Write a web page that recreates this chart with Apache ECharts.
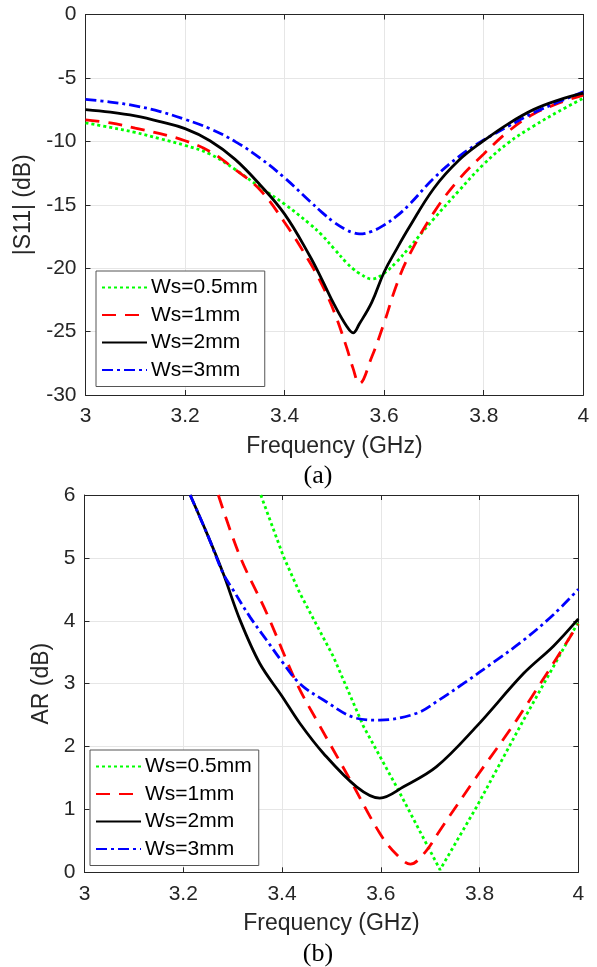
<!DOCTYPE html>
<html>
<head>
<meta charset="utf-8">
<script src="https://cdn.jsdelivr.net/npm/echarts@6/dist/echarts.min.js"></script>
<style>html,body{margin:0;padding:0;background:#fff}#c{width:597px;height:967px}</style>
</head>
<body>
<div id="c"></div>
<script>
// ---- Data ----
const seriesNames = ['Ws=0.5mm', 'Ws=1mm', 'Ws=2mm', 'Ws=3mm'];
const xTicks = [3, 3.2, 3.4, 3.6, 3.8, 4];

// (a) |S11| (dB)
const s11Freq = [3.0, 3.05, 3.1, 3.15, 3.2, 3.25, 3.3, 3.35, 3.4, 3.45, 3.475, 3.5, 3.525, 3.5375, 3.55, 3.575, 3.6, 3.625, 3.65, 3.7, 3.75, 3.8, 3.85, 3.9, 3.95, 4.0];
const s11Ws05 = [-8.55, -8.9, -9.3, -9.8, -10.32, -11.0, -12.2, -13.6, -14.95, -16.5, -17.4, -18.5, -19.6, -20.05, -20.4, -20.85, -20.4, -19.5, -18.4, -16.1, -13.9, -11.8, -10.1, -8.8, -7.65, -6.6];
const s11Ws1  = [-8.3, -8.55, -8.95, -9.4, -9.95, -10.8, -12.2, -13.8, -16.4, -19.5, -21.3, -23.5, -26.3, -27.9, -29.1, -27.0, -24.3, -21.3, -19.0, -15.6, -13.0, -11.0, -9.2, -7.85, -7.0, -6.35];
const s11Ws2  = [-7.5, -7.7, -8.0, -8.45, -9.0, -9.95, -11.4, -13.4, -15.74, -19.0, -20.9, -22.9, -24.6, -25.1, -24.4, -22.7, -20.3, -18.5, -16.8, -13.7, -11.5, -9.95, -8.6, -7.5, -6.75, -6.2];
const s11Ws3  = [-6.7, -6.9, -7.2, -7.65, -8.27, -9.0, -10.0, -11.3, -12.88, -14.7, -15.6, -16.4, -17.0, -17.2, -17.3, -17.1, -16.6, -15.9, -15.0, -12.9, -11.2, -9.9, -8.8, -7.75, -6.9, -6.1];

// (b) AR (dB)
const arFreqWs05 = [3.357, 3.403, 3.436, 3.504, 3.565, 3.632, 3.72, 3.794, 3.889, 4.0];
const arWs05     = [6.0, 5.02, 4.44, 3.43, 2.32, 1.36, 0.04, 1.04, 2.42, 3.98];
const arFreqWs1  = [3.271, 3.315, 3.369, 3.43, 3.47, 3.538, 3.598, 3.63, 3.66, 3.69, 3.72, 3.794, 3.875, 4.0];
const arWs1      = [6.0, 5.02, 4.12, 3.0, 2.42, 1.47, 0.62, 0.3, 0.13, 0.32, 0.67, 1.52, 2.42, 3.95];
const arFreqWs2  = [3.214, 3.25, 3.281, 3.315, 3.355, 3.4, 3.436, 3.484, 3.551, 3.598, 3.646, 3.713, 3.794, 3.889, 3.95, 4.0];
const arWs2      = [6.0, 5.35, 4.75, 4.01, 3.32, 2.8, 2.37, 1.89, 1.36, 1.18, 1.36, 1.68, 2.32, 3.16, 3.6, 4.03];
const arFreqWs3  = [3.214, 3.25, 3.281, 3.301, 3.336, 3.369, 3.4, 3.436, 3.484, 3.551, 3.598, 3.673, 3.72, 3.767, 3.83, 3.889, 3.95, 4.0];
const arWs3      = [6.0, 5.35, 4.75, 4.49, 4.05, 3.69, 3.35, 3.0, 2.74, 2.45, 2.42, 2.53, 2.75, 3.0, 3.35, 3.69, 4.1, 4.5];

// ---- Styles ----
const FONT = "Arial, 'Liberation Sans', sans-serif";
const AX = '#262626';
const colors = ['#00ff00', '#ff0000', '#000000', '#0000ff'];
const dashes = [[3, 3], [14, 9], 'solid', [11, 4, 3, 4]];

const zip = (xs, ys) => xs.map((x, i) => [x, ys[i]]);

function xAx(grid, pos, showLabel, name) {
  return {
    type: 'value', gridIndex: grid, position: pos, min: 3, max: 4, interval: 0.2,
    axisLine: { show: true, onZero: false, lineStyle: { color: AX, width: 1 } },
    axisTick: { show: true, inside: true, length: 5, lineStyle: { color: AX } },
    axisLabel: { show: showLabel, color: AX, fontFamily: FONT, fontSize: 21, margin: 11 },
    splitLine: { show: showLabel, lineStyle: { color: '#e6e6e6', width: 1 } },
    name: name || '', nameLocation: 'middle', nameGap: 40,
    nameTextStyle: { color: AX, fontFamily: FONT, fontSize: 23 }
  };
}
function yAx(grid, pos, showLabel, min, max, interval, name, gap) {
  return {
    type: 'value', gridIndex: grid, position: pos, min: min, max: max, interval: interval,
    axisLine: { show: true, onZero: false, lineStyle: { color: AX, width: 1 } },
    axisTick: { show: true, inside: true, length: 5, lineStyle: { color: AX } },
    axisLabel: { show: showLabel, color: AX, fontFamily: FONT, fontSize: 21, margin: 9 },
    splitLine: { show: showLabel, lineStyle: { color: '#e6e6e6', width: 1 } },
    name: name || '', nameLocation: 'middle', nameGap: gap || 0,
    nameTextStyle: { color: AX, fontFamily: FONT, fontSize: 23 }
  };
}

const s11Data = [s11Ws05, s11Ws1, s11Ws2, s11Ws3];
const arFreqs = [arFreqWs05, arFreqWs1, arFreqWs2, arFreqWs3];
const arData = [arWs05, arWs1, arWs2, arWs3];

const series = [];
seriesNames.forEach((n, i) => {
  series.push({
    name: n, type: 'line', xAxisIndex: 0, yAxisIndex: 0,
    data: zip(s11Freq, s11Data[i]), smooth: 0.4,
    symbol: 'none', showSymbol: false, z: 3 + (i === 2 ? 1 : 0),
    lineStyle: { color: colors[i], width: 2.8, type: dashes[i], cap: 'butt' },
    itemStyle: { color: colors[i] }
  });
});
seriesNames.forEach((n, i) => {
  series.push({
    name: n, type: 'line', xAxisIndex: 2, yAxisIndex: 2,
    data: zip(arFreqs[i], arData[i]), smooth: i === 0 ? false : 0.35,
    symbol: 'none', showSymbol: false, z: 3,
    lineStyle: { color: colors[i], width: 2.8, type: dashes[i], cap: 'butt' },
    itemStyle: { color: colors[i] }
  });
});

function legendAt(left, top) {
  return {
    orient: 'vertical', left: left, top: top, data: seriesNames,
    itemWidth: 45, itemHeight: 14, itemGap: 6.5,
    padding: [6, 7, 6, 5],
    backgroundColor: '#ffffff', borderColor: '#555555', borderWidth: 1,
    itemStyle: { opacity: 0, borderWidth: 0 },
    textStyle: { color: '#000', fontFamily: FONT, fontSize: 21, padding: [0, 0, 0, -1] },
    selectedMode: false, z: 10
  };
}

const option = {
  animation: false,
  backgroundColor: '#ffffff',
  grid: [
    { left: 85.5, top: 14.5, width: 497.8, height: 380.5 },
    { left: 84.5, top: 495, width: 493.8, height: 377.3 }
  ],
  xAxis: [
    xAx(0, 'bottom', true, 'Frequency (GHz)'),
    xAx(0, 'top', false),
    xAx(1, 'bottom', true, 'Frequency (GHz)'),
    xAx(1, 'top', false)
  ],
  yAxis: [
    yAx(0, 'left', true, -30, 0, 5, '|S11| (dB)', 43),
    yAx(0, 'right', false, -30, 0, 5),
    yAx(1, 'left', true, 0, 6, 1, 'AR (dB)', 26),
    yAx(1, 'right', false, 0, 6, 1)
  ],
  legend: [legendAt(96, 271), legendAt(90, 750)],
  graphic: [
    { type: 'text', x: 318, y: 476, style: { text: '(a)', font: "26px 'Liberation Serif', 'Times New Roman', serif", fill: '#000', textAlign: 'center', textVerticalAlign: 'middle' } },
    { type: 'text', x: 318, y: 954, style: { text: '(b)', font: "26px 'Liberation Serif', 'Times New Roman', serif", fill: '#000', textAlign: 'center', textVerticalAlign: 'middle' } }
  ],
  series: series
};

const chart = echarts.init(document.getElementById('c'), null, { renderer: 'canvas' });
chart.setOption(option);
</script>
</body>
</html>
